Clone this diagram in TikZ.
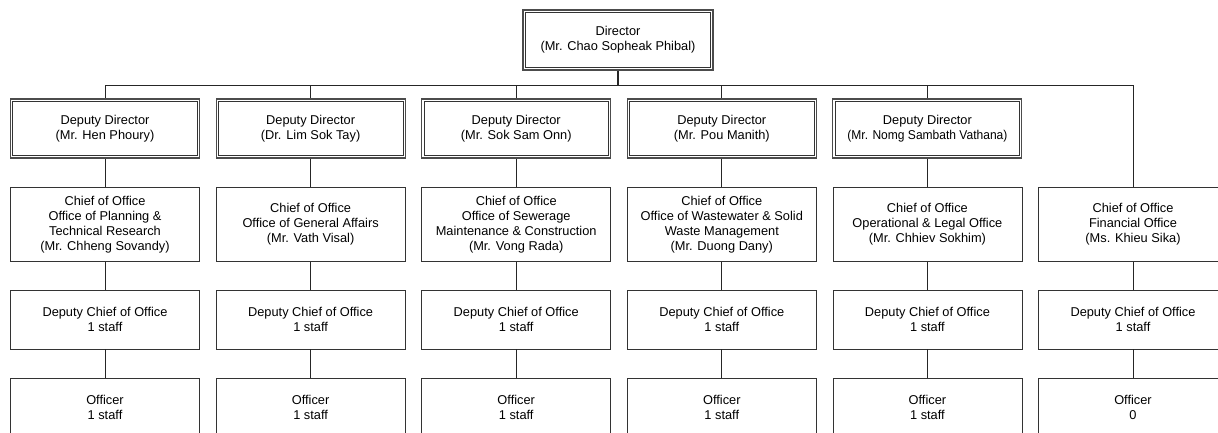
\documentclass[tikz,border=0pt]{standalone}
\usepackage{fontspec}
\setmainfont{Liberation Sans}
\begin{document}
\begin{tikzpicture}[x=1pt,y=-1pt,
  box/.style={draw=black!80, line width=0.8pt, fill=white, minimum width=189pt, inner sep=0pt, align=center, font=\fontsize{12.8}{15}\selectfont},
  dbox/.style={box, draw=black!70, line width=1.1pt},
  inner/.style={draw=black!80, line width=0.6pt},
  link/.style={draw=black!85, line width=0.9pt},
  stem/.style={draw=black!85, line width=2pt}]
\useasboundingbox (0,0) rectangle (1218,432);
% director
\node[dbox, minimum width=190pt, minimum height=60pt] (dir) at (618,40) {Director\\(Mr. Chao Sopheak Phibal)};
\coordinate (bus) at (618,85);
% deputies
\node[dbox, minimum height=59pt] (dep1) at (105,128.5) {Deputy Director\\(Mr. Hen Phoury)};
\node[dbox, minimum height=59pt] (dep2) at (310.6,128.5) {Deputy Director\\(Dr. Lim Sok Tay)};
\node[dbox, minimum height=59pt] (dep3) at (516.2,128.5) {Deputy Director\\(Mr. Sok Sam Onn)};
\node[dbox, minimum height=59pt] (dep4) at (721.8,128.5) {Deputy Director\\(Mr. Pou Manith)};
\node[dbox, minimum height=59pt] (dep5) at (927.4,128.5) {Deputy Director\\\scalebox{0.94}[1]{(Mr. Nomg Sambath Vathana)}};
\foreach \n in {dir,dep1,dep2,dep3,dep4,dep5}
  \path[inner] ([xshift=2.8pt,yshift=2.8pt]\n.south west) rectangle ([xshift=-2.8pt,yshift=-2.8pt]\n.north east);
% chiefs
\node[box, minimum height=74pt] (ch1) at (105,224.5) {Chief of Office\\Office of Planning \&\\Technical Research\\(Mr. Chheng Sovandy)};
\node[box, minimum height=74pt] (ch2) at (310.6,224.5) {Chief of Office\\Office of General Affairs\\(Mr. Vath Visal)};
\node[box, minimum height=74pt] (ch3) at (516.2,224.5) {Chief of Office\\Office of Sewerage\\Maintenance \& Construction\\(Mr. Vong Rada)};
\node[box, minimum height=74pt] (ch4) at (721.8,224.5) {Chief of Office\\Office of Wastewater \& Solid\\Waste Management\\(Mr. Duong Dany)};
\node[box, minimum height=74pt] (ch5) at (927.4,224.5) {Chief of Office\\Operational \& Legal Office\\(Mr. Chhiev Sokhim)};
\node[box, minimum height=74pt] (ch6) at (1133,224.5) {Chief of Office\\Financial Office\\(Ms. Khieu Sika)};
% deputy chiefs
\node[box, minimum height=59pt] (dc1) at (105,319.5) {Deputy Chief of Office\\1 staff};
\node[box, minimum height=59pt] (dc2) at (310.6,319.5) {Deputy Chief of Office\\1 staff};
\node[box, minimum height=59pt] (dc3) at (516.2,319.5) {Deputy Chief of Office\\1 staff};
\node[box, minimum height=59pt] (dc4) at (721.8,319.5) {Deputy Chief of Office\\1 staff};
\node[box, minimum height=59pt] (dc5) at (927.4,319.5) {Deputy Chief of Office\\1 staff};
\node[box, minimum height=59pt] (dc6) at (1133,319.5) {Deputy Chief of Office\\1 staff};
% officers
\node[box, minimum height=59pt] (of1) at (105,407.5) {Officer\\1 staff};
\node[box, minimum height=59pt] (of2) at (310.6,407.5) {Officer\\1 staff};
\node[box, minimum height=59pt] (of3) at (516.2,407.5) {Officer\\1 staff};
\node[box, minimum height=59pt] (of4) at (721.8,407.5) {Officer\\1 staff};
\node[box, minimum height=59pt] (of5) at (927.4,407.5) {Officer\\1 staff};
\node[box, minimum height=59pt] (of6) at (1133,407.5) {Officer\\0};
% connectors
\coordinate (b1) at (dep1.north |- bus);
\coordinate (b6) at (ch6.north |- bus);
\path[stem] (dir.south) -- (bus);
\path[link] (b1) -- (b6);
\foreach \i in {1,...,5} {
  \path[link] (dep\i.north |- bus) -- (dep\i.north);
  \path[link] (dep\i.south) -- (ch\i.north);
}
\path[link] (b6) -- (ch6.north);
\foreach \i in {1,...,6} {
  \path[link] (ch\i.south) -- (dc\i.north);
  \path[link] (dc\i.south) -- (of\i.north);
}
\end{tikzpicture}
\end{document}
